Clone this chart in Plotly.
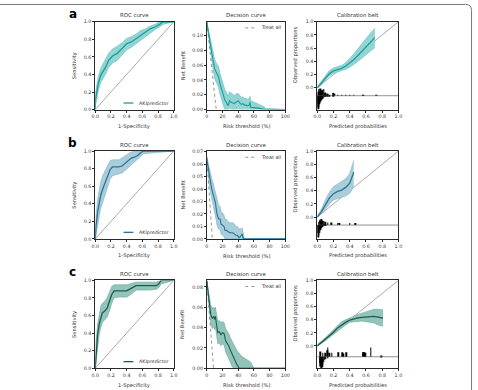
import plotly.graph_objects as go

W, H = 478, 390

# ---------------- DATA ----------------
# ROC curves (1-Specificity, Sensitivity, lower / upper band)
roc_a_fpr = [0, 0.0, 0.02, 0.04, 0.07, 0.10, 0.13, 0.17, 0.22, 0.28, 0.34, 0.40, 0.46, 0.52, 0.58, 0.64, 0.70, 0.76, 0.82, 0.86, 1.0]
roc_a_tpr = [0, 0.10, 0.20, 0.30, 0.39, 0.43, 0.48, 0.56, 0.61, 0.64, 0.69, 0.75, 0.77, 0.81, 0.85, 0.88, 0.92, 0.94, 0.97, 1.0, 1.0]
roc_a_hi = [0, 0.18, 0.28, 0.38, 0.47, 0.52, 0.57, 0.64, 0.69, 0.72, 0.76, 0.81, 0.83, 0.86, 0.90, 0.92, 0.95, 0.97, 1.0, 1.0, 1.0]
roc_a_lo = [0, 0.04, 0.12, 0.22, 0.31, 0.35, 0.40, 0.48, 0.53, 0.56, 0.62, 0.68, 0.71, 0.75, 0.80, 0.83, 0.88, 0.91, 0.94, 0.97, 1.0]

roc_b_fpr = [0, 0.01, 0.03, 0.05, 0.07, 0.10, 0.13, 0.16, 0.19, 0.22, 0.26, 0.30, 0.34, 0.38, 0.42, 0.46, 0.50, 0.54, 0.58, 0.61, 1.0]
roc_b_tpr = [0, 0.15, 0.30, 0.42, 0.50, 0.58, 0.65, 0.72, 0.79, 0.82, 0.82, 0.82, 0.83, 0.86, 0.89, 0.92, 0.93, 0.95, 0.98, 1.0, 1.0]
roc_b_hi = [0, 0.28, 0.45, 0.57, 0.65, 0.73, 0.79, 0.85, 0.89, 0.90, 0.90, 0.90, 0.92, 0.95, 0.97, 0.99, 1.0, 1.0, 1.0, 1.0, 1.0]
roc_b_lo = [0, 0.05, 0.16, 0.27, 0.35, 0.43, 0.51, 0.59, 0.68, 0.72, 0.73, 0.74, 0.75, 0.78, 0.81, 0.85, 0.87, 0.90, 0.94, 0.97, 1.0]

roc_c_fpr = [0, 0.01, 0.03, 0.05, 0.07, 0.09, 0.12, 0.15, 0.18, 0.21, 0.24, 0.30, 0.36, 0.40, 0.44, 0.48, 0.52, 0.60, 0.70, 0.78, 0.81, 0.84, 1.0]
roc_c_tpr = [0, 0.18, 0.38, 0.50, 0.58, 0.63, 0.65, 0.68, 0.76, 0.84, 0.88, 0.88, 0.88, 0.88, 0.90, 0.92, 0.94, 0.94, 0.94, 0.94, 0.96, 1.0, 1.0]
roc_c_hi = [0, 0.30, 0.50, 0.62, 0.70, 0.74, 0.76, 0.80, 0.87, 0.93, 0.95, 0.95, 0.95, 0.95, 0.96, 0.97, 0.98, 0.98, 0.98, 0.98, 0.99, 1.0, 1.0]
roc_c_lo = [0, 0.08, 0.26, 0.38, 0.46, 0.52, 0.55, 0.58, 0.65, 0.74, 0.80, 0.81, 0.81, 0.81, 0.83, 0.86, 0.89, 0.89, 0.89, 0.90, 0.92, 0.96, 1.0]

# Decision curves (risk threshold %, net benefit, lower / upper band)
dc_a_thr = [0, 2, 4, 6, 8, 10, 12, 14, 15, 17, 19, 21, 23, 25, 27, 29, 31, 33, 35, 37, 40, 42, 44, 46, 48, 50, 52, 54, 55, 56, 58, 62, 66, 70, 73, 74, 100]
dc_a_nb = [0.118, 0.104, 0.092, 0.080, 0.066, 0.055, 0.050, 0.046, 0.044, 0.034, 0.025, 0.020, 0.013, 0.010, 0.005, 0.012, 0.010, 0.009, 0.008, 0.010, 0.012, 0.009, 0.007, 0.008, 0.006, 0.006, 0.005, 0.006, 0.010, 0.003, 0.003, 0.002, 0.002, 0.001, 0.001, 0.0, 0.0]
dc_a_hi = [0.118, 0.108, 0.099, 0.089, 0.078, 0.068, 0.063, 0.060, 0.058, 0.048, 0.040, 0.035, 0.027, 0.023, 0.018, 0.024, 0.022, 0.020, 0.019, 0.021, 0.022, 0.019, 0.017, 0.017, 0.015, 0.015, 0.014, 0.015, 0.018, 0.012, 0.011, 0.009, 0.008, 0.006, 0.004, 0.0, 0.0]
dc_a_lo = [0.118, 0.100, 0.085, 0.071, 0.055, 0.042, 0.037, 0.033, 0.030, 0.020, 0.011, 0.006, 0.0, 0.0, 0.0, 0.002, 0.0, 0.0, 0.0, 0.0, 0.002, 0.0, 0.0, 0.0, 0.0, 0.0, 0.0, 0.0, 0.0, 0.0, 0.0, 0.0, 0.0, 0.0, 0.0, 0.0, 0.0]

dc_b_thr = [0, 2, 4, 6, 8, 10, 11, 12, 13, 15, 17, 18, 20, 22, 23, 25, 27, 29, 31, 33, 35, 37, 39, 41, 43, 44, 45, 46, 47, 48, 100]
dc_b_nb = [0.064, 0.055, 0.047, 0.041, 0.036, 0.031, 0.029, 0.024, 0.020, 0.016, 0.016, 0.012, 0.011, 0.010, 0.007, 0.007, 0.006, 0.005, 0.005, 0.005, 0.004, 0.003, 0.003, 0.001, 0.002, 0.004, 0.004, 0.001, 0.0, 0.0, 0.0]
dc_b_hi = [0.066, 0.060, 0.054, 0.049, 0.045, 0.040, 0.038, 0.034, 0.031, 0.027, 0.026, 0.022, 0.021, 0.019, 0.016, 0.016, 0.014, 0.013, 0.013, 0.013, 0.012, 0.010, 0.010, 0.008, 0.008, 0.009, 0.009, 0.006, 0.004, 0.0, 0.0]
dc_b_lo = [0.062, 0.050, 0.040, 0.033, 0.027, 0.022, 0.020, 0.015, 0.011, 0.008, 0.008, 0.004, 0.003, 0.002, 0.0, 0.0, 0.0, 0.0, 0.0, 0.0, 0.0, 0.0, 0.0, 0.0, 0.0, 0.0, 0.0, 0.0, 0.0, 0.0, 0.0]

dc_c_thr = [0, 2, 4, 5, 7, 9, 10, 11, 12, 13, 14, 16, 18, 20, 22, 24, 26, 28, 30, 32, 34, 36, 38, 40, 41, 44, 48, 52, 56, 60, 100]
dc_c_nb = [0.086, 0.073, 0.061, 0.053, 0.049, 0.051, 0.048, 0.051, 0.045, 0.036, 0.035, 0.036, 0.033, 0.035, 0.034, 0.027, 0.025, 0.022, 0.018, 0.014, 0.010, 0.006, 0.004, 0.002, 0.0, 0.0, 0.0, 0.0, 0.0, 0.0, 0.0]
dc_c_hi = [0.086, 0.077, 0.068, 0.062, 0.059, 0.060, 0.058, 0.060, 0.055, 0.047, 0.046, 0.047, 0.045, 0.046, 0.045, 0.039, 0.037, 0.034, 0.030, 0.027, 0.023, 0.020, 0.018, 0.016, 0.015, 0.012, 0.010, 0.008, 0.006, 0.0, 0.0]
dc_c_lo = [0.086, 0.069, 0.054, 0.044, 0.039, 0.041, 0.038, 0.041, 0.035, 0.026, 0.024, 0.025, 0.022, 0.024, 0.023, 0.016, 0.013, 0.010, 0.006, 0.002, 0.0, 0.0, 0.0, 0.0, 0.0, 0.0, 0.0, 0.0, 0.0, 0.0, 0.0]

# "Treat all" reference strategy
treat_a_thr = [0, 12]
treat_a_nb = [0.118, 0.0]
treat_b_thr = [0, 7]
treat_b_nb = [0.066, 0.0]
treat_c_thr = [0, 8.6]
treat_c_nb = [0.086, 0.0]

# Calibration belts (predicted, observed, lower / upper band)
cal_a_x = [0, 0.05, 0.10, 0.15, 0.20, 0.25, 0.30, 0.35, 0.40, 0.45, 0.50, 0.55, 0.60, 0.65, 0.71]
cal_a_y = [0, 0.07, 0.155, 0.215, 0.255, 0.275, 0.295, 0.33, 0.375, 0.425, 0.49, 0.555, 0.625, 0.69, 0.76]
cal_a_hi = [0.02, 0.10, 0.19, 0.26, 0.30, 0.315, 0.34, 0.38, 0.44, 0.51, 0.59, 0.67, 0.75, 0.82, 0.90]
cal_a_lo = [0, 0.05, 0.12, 0.18, 0.22, 0.24, 0.25, 0.28, 0.31, 0.35, 0.40, 0.45, 0.50, 0.55, 0.61]

cal_b_x = [0, 0.05, 0.10, 0.15, 0.20, 0.25, 0.30, 0.35, 0.40, 0.43, 0.45]
cal_b_y = [0, 0.08, 0.185, 0.29, 0.355, 0.39, 0.41, 0.45, 0.515, 0.61, 0.68]
cal_b_hi = [0.02, 0.12, 0.26, 0.38, 0.46, 0.50, 0.53, 0.58, 0.66, 0.78, 0.86]
cal_b_lo = [0, 0.05, 0.12, 0.20, 0.26, 0.28, 0.30, 0.32, 0.36, 0.42, 0.46]

cal_c_x = [0, 0.05, 0.10, 0.15, 0.20, 0.25, 0.30, 0.35, 0.40, 0.45, 0.50, 0.55, 0.60, 0.65, 0.70, 0.75, 0.81]
cal_c_y = [0, 0.05, 0.10, 0.155, 0.21, 0.275, 0.32, 0.36, 0.395, 0.415, 0.428, 0.437, 0.443, 0.448, 0.45, 0.44, 0.425]
cal_c_hi = [0.02, 0.07, 0.125, 0.185, 0.25, 0.32, 0.37, 0.40, 0.43, 0.46, 0.48, 0.50, 0.52, 0.54, 0.56, 0.56, 0.55]
cal_c_lo = [0, 0.035, 0.08, 0.13, 0.18, 0.23, 0.28, 0.32, 0.36, 0.37, 0.38, 0.38, 0.37, 0.36, 0.35, 0.32, 0.30]

# Calibration histograms: events (up) and non-events (down)
hist_a_up_x = [0.01, 0.02, 0.03, 0.04, 0.05, 0.06, 0.07, 0.08, 0.09, 0.10, 0.12, 0.13, 0.20, 0.21, 0.25, 0.30, 0.35, 0.40, 0.45, 0.56, 0.57, 0.73]
hist_a_up_h = [0.06, 0.10, 0.08, 0.11, 0.07, 0.09, 0.05, 0.10, 0.04, 0.05, 0.03, 0.02, 0.04, 0.02, 0.01, 0.01, 0.01, 0.01, 0.01, 0.015, 0.01, 0.015]
hist_a_dn_x = [0.005, 0.01, 0.015, 0.02, 0.025, 0.03, 0.04, 0.05, 0.06, 0.07, 0.08, 0.09, 0.10, 0.12, 0.15, 0.20]
hist_a_dn_h = [0.12, 0.21, 0.18, 0.16, 0.13, 0.11, 0.09, 0.07, 0.05, 0.04, 0.03, 0.02, 0.015, 0.01, 0.01, 0.005]
hist_a_base = -0.12

hist_b_up_x = [0.02, 0.03, 0.04, 0.05, 0.06, 0.07, 0.08, 0.10, 0.13, 0.17, 0.25, 0.27, 0.40, 0.47]
hist_b_up_h = [0.05, 0.08, 0.06, 0.09, 0.07, 0.05, 0.06, 0.05, 0.04, 0.04, 0.03, 0.03, 0.03, 0.03]
hist_b_dn_x = [0.01, 0.015, 0.02, 0.03, 0.04, 0.05, 0.06, 0.08, 0.10]
hist_b_dn_h = [0.12, 0.19, 0.16, 0.12, 0.08, 0.05, 0.03, 0.02, 0.01]
hist_b_base = -0.12

hist_c_up_x = [0.04, 0.07, 0.10, 0.12, 0.13, 0.15, 0.18, 0.26, 0.31, 0.32, 0.36, 0.56, 0.57, 0.58, 0.59, 0.66, 0.79]
hist_c_up_h = [0.08, 0.06, 0.06, 0.10, 0.14, 0.06, 0.06, 0.07, 0.07, 0.05, 0.07, 0.07, 0.07, 0.07, 0.06, 0.14, 0.01]
hist_c_dn_x = [0.03, 0.04, 0.05, 0.06, 0.07, 0.08, 0.09, 0.10, 0.13]
hist_c_dn_h = [0.10, 0.15, 0.17, 0.16, 0.12, 0.08, 0.05, 0.03, 0.01]
hist_c_base = -0.165

panel_labels = ["a", "b", "c"]
titles = ["ROC curve", "Decision curve", "Calibration belt"]
model_name = "AKIpredictor"

# ---------------- STYLE ----------------
FONT = "DejaVu Sans"
TXT = "#333333"
rows = [
    dict(line="#1b9b9c", fill="#93d5d3", edge="#62bfbd"),
    dict(line="#2b7392", fill="#a9cddb", edge="#7eb2c7"),
    dict(line="#1b5b53", fill="#93c4ba", edge="#68a89c"),
]

def px(x):
    return x / W

def py(y):
    return 1 - y / H

col_px = [(93, 173), (206.7, 286.7), (319.3, 402)]
row_px = [(20, 109), (151, 240), (282, 371)]

data_rows = [
    dict(roc=(roc_a_fpr, roc_a_tpr, roc_a_lo, roc_a_hi),
         dc=(dc_a_thr, dc_a_nb, dc_a_lo, dc_a_hi), treat=(treat_a_thr, treat_a_nb),
         dcy=(0.1187, [0, 0.02, 0.04, 0.06, 0.08, 0.10]),
         cal=(cal_a_x, cal_a_y, cal_a_lo, cal_a_hi),
         hist=(hist_a_up_x, hist_a_up_h, hist_a_dn_x, hist_a_dn_h, hist_a_base), calmin=-0.33),
    dict(roc=(roc_b_fpr, roc_b_tpr, roc_b_lo, roc_b_hi),
         dc=(dc_b_thr, dc_b_nb, dc_b_lo, dc_b_hi), treat=(treat_b_thr, treat_b_nb),
         dcy=(0.0705, [0, 0.01, 0.02, 0.03, 0.04, 0.05, 0.06, 0.07]),
         cal=(cal_b_x, cal_b_y, cal_b_lo, cal_b_hi),
         hist=(hist_b_up_x, hist_b_up_h, hist_b_dn_x, hist_b_dn_h, hist_b_base), calmin=-0.33),
    dict(roc=(roc_c_fpr, roc_c_tpr, roc_c_lo, roc_c_hi),
         dc=(dc_c_thr, dc_c_nb, dc_c_lo, dc_c_hi), treat=(treat_c_thr, treat_c_nb),
         dcy=(0.0865, [0, 0.02, 0.04, 0.06, 0.08]),
         cal=(cal_c_x, cal_c_y, cal_c_lo, cal_c_hi),
         hist=(hist_c_up_x, hist_c_up_h, hist_c_dn_x, hist_c_dn_h, hist_c_base), calmin=-0.34),
]

fig = go.Figure()
layout = dict(
    width=W, height=H, margin=dict(l=0, r=0, t=0, b=0),
    paper_bgcolor="white", plot_bgcolor="white", showlegend=False,
    barmode="overlay", font=dict(family=FONT, color=TXT, size=5),
)
shapes, annotations = [], []

TICKFONT = dict(family=FONT, size=4.8, color=TXT)
TITLEFONT = dict(family=FONT, size=5.4, color=TXT)
AXFONT = dict(family=FONT, size=5.2, color=TXT)

def axis(domain, rng, tickvals, fmt, anchor):
    return dict(domain=domain, range=rng, tickvals=tickvals, tickformat=fmt,
                showgrid=False, zeroline=False, showline=True, mirror=True,
                linecolor="#2a2a2a", linewidth=0.8, ticks="outside", ticklen=2,
                tickwidth=0.6, tickcolor="#2a2a2a", tickfont=TICKFONT, anchor=anchor)

def band(xs, lo, hi, xa, ya, st):
    fig.add_trace(go.Scatter(x=xs, y=lo, mode="lines", xaxis=xa, yaxis=ya,
                             line=dict(color=st["edge"], width=0.6), hoverinfo="skip"))
    fig.add_trace(go.Scatter(x=xs, y=hi, mode="lines", xaxis=xa, yaxis=ya, fill="tonexty",
                             fillcolor=st["fill"], line=dict(color=st["edge"], width=0.6),
                             hoverinfo="skip"))

for r, d in enumerate(data_rows):
    st = rows[r]
    top, bot = row_px[r]
    ydom = [py(bot), py(top)]
    n0 = 3 * r + 1
    ids = [n0, n0 + 1, n0 + 2]
    xa = ["x" if i == 1 else f"x{i}" for i in ids]
    ya = ["y" if i == 1 else f"y{i}" for i in ids]
    xk = ["xaxis" if i == 1 else f"xaxis{i}" for i in ids]
    yk = ["yaxis" if i == 1 else f"yaxis{i}" for i in ids]

    # ROC
    fpr, tpr, lo, hi = d["roc"]
    band(fpr, lo, hi, xa[0], ya[0], st)
    fig.add_trace(go.Scatter(x=fpr, y=tpr, mode="lines", xaxis=xa[0], yaxis=ya[0],
                             line=dict(color=st["line"], width=1.3), name=model_name))
    layout[xk[0]] = axis([px(col_px[0][0]), px(col_px[0][1])], [0, 1],
                         [0, 0.2, 0.4, 0.6, 0.8, 1.0], ".1f", ya[0])
    layout[yk[0]] = axis(ydom, [0, 1], [0, 0.2, 0.4, 0.6, 0.8, 1.0], ".1f", xa[0])
    shapes.append(dict(type="line", xref=xa[0], yref=ya[0], x0=0, y0=0, x1=1, y1=1,
                       line=dict(color="#555", width=0.5), layer="below"))
    # legend
    shapes.append(dict(type="line", xref=f"{xa[0]} domain", yref=f"{ya[0]} domain",
                       x0=0.36, x1=0.485, y0=0.075, y1=0.075,
                       line=dict(color=st["line"], width=1.3)))
    annotations.append(dict(text=model_name, xref=f"{xa[0]} domain", yref=f"{ya[0]} domain",
                            x=0.535, y=0.075, xanchor="left", yanchor="middle",
                            showarrow=False, font=dict(family=FONT, size=4.8, color=TXT)))

    # Decision curve
    thr, nb, lo, hi = d["dc"]
    band(thr, lo, hi, xa[1], ya[1], st)
    tx, ty = d["treat"]
    fig.add_trace(go.Scatter(x=tx, y=ty, mode="lines", xaxis=xa[1], yaxis=ya[1],
                             line=dict(color="#666", width=0.7, dash="dot"), name="Treat all"))
    fig.add_trace(go.Scatter(x=thr, y=nb, mode="lines", xaxis=xa[1], yaxis=ya[1],
                             line=dict(color=st["line"], width=1.1, shape="linear"), name=model_name))
    ymax, yt = d["dcy"]
    layout[xk[1]] = axis([px(col_px[1][0]), px(col_px[1][1])], [0, 100],
                         [0, 20, 40, 60, 80, 100], "d", ya[1])
    layout[yk[1]] = axis(ydom, [0, ymax], yt, ".2f", xa[1])
    shapes.append(dict(type="line", xref=f"{xa[1]} domain", yref=f"{ya[1]} domain",
                       x0=0.49, x1=0.615, y0=0.93, y1=0.93,
                       line=dict(color="#666", width=0.7, dash="dot")))
    annotations.append(dict(text="Treat all", xref=f"{xa[1]} domain", yref=f"{ya[1]} domain",
                            x=0.665, y=0.93, xanchor="left", yanchor="middle",
                            showarrow=False, font=dict(family=FONT, size=4.8, color=TXT)))

    # Calibration belt
    cx, cy, lo, hi = d["cal"]
    band(cx, lo, hi, xa[2], ya[2], st)
    fig.add_trace(go.Scatter(x=cx, y=cy, mode="lines", xaxis=xa[2], yaxis=ya[2],
                             line=dict(color=st["line"], width=1.3)))
    ux, uh, dx, dh, base = d["hist"]
    fig.add_trace(go.Bar(x=ux, y=uh, base=base, width=0.007, xaxis=xa[2], yaxis=ya[2],
                         marker=dict(color="black", line=dict(width=0))))
    fig.add_trace(go.Bar(x=dx, y=[-v for v in dh], base=base, width=0.007, xaxis=xa[2], yaxis=ya[2],
                         marker=dict(color="black", line=dict(width=0))))
    layout[xk[2]] = axis([px(col_px[2][0]), px(col_px[2][1])], [0, 1],
                         [0, 0.2, 0.4, 0.6, 0.8, 1.0], ".1f", ya[2])
    layout[yk[2]] = axis(ydom, [d["calmin"], 1], [0, 0.2, 0.4, 0.6, 0.8, 1.0], ".1f", xa[2])
    shapes.append(dict(type="line", xref=xa[2], yref=ya[2], x0=0, y0=0, x1=1, y1=1,
                       line=dict(color="#555", width=0.5), layer="below"))
    shapes.append(dict(type="line", xref=f"{xa[2]} domain", yref=ya[2], x0=0, x1=1,
                       y0=base, y1=base, line=dict(color="#444", width=0.6)))

    # Titles and axis titles
    for c in range(3):
        cxm = px((col_px[c][0] + col_px[c][1]) / 2)
        annotations.append(dict(text=titles[c], xref="paper", yref="paper", x=cxm, y=py(top - 6.5),
                                xanchor="center", yanchor="middle", showarrow=False, font=TITLEFONT))
    xt = ["1-Specificity", "Risk threshold (%)", "Predicted probabilities"]
    for c in range(3):
        cxm = px((col_px[c][0] + col_px[c][1]) / 2)
        annotations.append(dict(text=xt[c], xref="paper", yref="paper", x=cxm, y=py(bot + 17),
                                xanchor="center", yanchor="middle", showarrow=False, font=AXFONT))
    ymid = (top + bot) / 2
    cal_zero = top + (bot - top) * 1.0 / (1 - d["calmin"])
    annotations.append(dict(text="Sensitivity", xref="paper", yref="paper", x=px(72), y=py(ymid),
                            textangle=-90, xanchor="center", yanchor="middle", showarrow=False, font=AXFONT))
    annotations.append(dict(text="Net Benefit", xref="paper", yref="paper", x=px(182), y=py(ymid),
                            textangle=-90, xanchor="center", yanchor="middle", showarrow=False, font=AXFONT))
    annotations.append(dict(text="Observed proportions", xref="paper", yref="paper", x=px(297),
                            y=py((top + cal_zero) / 2), textangle=-90, xanchor="center",
                            yanchor="middle", showarrow=False, font=AXFONT))
    annotations.append(dict(text=f"<b>{panel_labels[r]}</b>", xref="paper", yref="paper",
                            x=px(70), y=py(top - 8), xanchor="center", yanchor="middle",
                            showarrow=False, font=dict(family=FONT, size=12, color="black")))

# outer frame (rounded corner, top-right)
rx, ry = px(6), 6 / H
x1, y1 = px(476.5), py(2.5)
shapes.append(dict(type="path", xref="paper", yref="paper",
                   path=f"M -0.05,{y1} L {x1 - rx},{y1} Q {x1},{y1} {x1},{y1 - ry} L {x1},-0.05",
                   line=dict(color="#7a7a7a", width=1)))

layout["shapes"] = shapes
layout["annotations"] = annotations
fig.update_layout(**layout)
fig.write_html("out.html")
